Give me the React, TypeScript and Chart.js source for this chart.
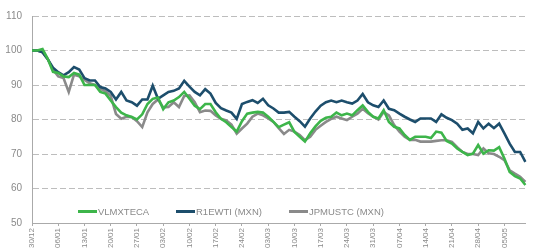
import React, { useEffect, useRef } from "react";
import { Chart, registerables } from "chart.js";

Chart.register(...registerables);

const dates = [
  "30/12", "31/12", "01/01", "02/01", "03/01",
  "06/01", "07/01", "08/01", "09/01", "10/01",
  "13/01", "14/01", "15/01", "16/01", "17/01",
  "20/01", "21/01", "22/01", "23/01", "24/01",
  "27/01", "28/01", "29/01", "30/01", "31/01",
  "03/02", "04/02", "05/02", "06/02", "07/02",
  "10/02", "11/02", "12/02", "13/02", "14/02",
  "17/02", "18/02", "19/02", "20/02", "21/02",
  "24/02", "25/02", "26/02", "27/02", "28/02",
  "03/03", "04/03", "05/03", "06/03", "07/03",
  "10/03", "11/03", "12/03", "13/03", "14/03",
  "17/03", "18/03", "19/03", "20/03", "21/03",
  "24/03", "25/03", "26/03", "27/03", "28/03",
  "31/03", "01/04", "02/04", "03/04", "04/04",
  "07/04", "08/04", "09/04", "10/04", "11/04",
  "14/04", "15/04", "16/04", "17/04", "18/04",
  "21/04", "22/04", "23/04", "24/04", "25/04",
  "28/04", "29/04", "30/04", "01/05", "02/05",
  "05/05", "06/05", "07/05", "08/05", "09/05",
];

const vlmxteca = [
  100, 100, 100.4, 97.6, 93.8,
  93.5, 92.5, 92.3, 93.5, 93,
  90, 90, 90, 88, 87.5,
  85.5, 83.6, 82, 81.2, 80.7,
  80, 81.5, 84.5, 86, 86.4,
  83, 85, 85.5, 86.5, 88,
  86, 84, 83, 84.5, 84.5,
  82.1, 80.2, 79.2, 77.8, 76.5,
  79.5, 81.7, 82, 82.2, 82,
  80.8, 79.3, 77.8, 78.5, 79.2,
  76.4, 75, 73.6, 76, 78,
  79.6, 80.5, 80.8, 82, 81.2,
  81.7, 81.2, 82.7, 84.1, 82.2,
  80.8, 80.3, 82.7, 79.3, 77.9,
  77.4, 75.5, 74.1, 75, 75,
  75, 74.6, 76.5, 76.2, 73.8,
  73, 71.6, 70.6, 69.7, 70.1,
  72.6, 70.1, 71.1, 71, 72,
  68.7, 64.8, 63.6, 62.9, 61,
];

const r1ewti = [
  100, 100, 99.5, 97.5, 95,
  93.7, 92.8, 93.7, 95.2, 94.5,
  92, 91.3, 91.3, 89.4, 89,
  88, 85.8, 88, 85.5, 85,
  84, 85.8, 85.8, 89.8, 86,
  87, 88, 88.3, 89, 91.2,
  89.5, 88, 87, 88.8, 87.5,
  84.8, 83.3, 82.6, 82, 80.2,
  84.5, 85.1, 85.6, 84.8, 86,
  84.1, 83.2, 82, 82, 82.2,
  80.8, 79.5, 77.9, 80.3, 82.3,
  84, 85, 85.5, 85, 85.5,
  85, 84.6, 85.5, 87.4, 85,
  84.1, 83.6, 85.5, 83.1, 82.7,
  81.7, 80.8, 80, 79.3, 80.3,
  80.3, 80.3, 79.3, 81.5, 80.5,
  79.8, 78.8, 77, 77.4, 76,
  79.3, 77.4, 78.8, 77.5, 78.8,
  76, 73, 70.6, 70.6, 67.7,
];

const jpmustc = [
  100, 100, 99.5, 97.5, 94.5,
  92.5, 92, 88, 93, 92.5,
  91.5, 90.5, 90, 88.9, 88.2,
  86.8, 81.6, 80.2, 80.8, 80.7,
  79.5, 77.8, 82.1, 84.5, 85.8,
  83.5, 83.6, 85, 83.6, 86.8,
  87, 85, 82.1, 82.6, 82.5,
  81.2, 80.2, 79.7, 78.5, 75.9,
  77.4, 78.8, 80.8, 81.7, 81.2,
  80.3, 79.3, 77.5, 75.8, 77,
  76.5, 75.5, 74, 75, 77,
  78.2, 79.3, 80.2, 80.8, 80.3,
  79.8, 80.8, 81.7, 83.1, 81.8,
  80.8, 80, 82.2, 81.2, 78.4,
  76.5, 75, 74.1, 74.1, 73.6,
  73.6, 73.6, 73.8, 74, 74,
  73.5, 72, 70.6, 70, 70,
  69.7, 71.6, 70.2, 70, 69.2,
  68.2, 65.3, 64.3, 63.4, 61.9,
];

const seriesNames = ["VLMXTECA", "R1EWTI (MXN)", "JPMUSTC (MXN)"];
const seriesColors = ["#3DB54A", "#1D4E6C", "#8A8A8A"];

const FONT = "'Liberation Sans', Arial, sans-serif";

export default function App() {
  const ref = useRef<HTMLCanvasElement | null>(null);

  useEffect(() => {
    if (!ref.current) return;
    const chart = new Chart(ref.current, {
      type: "line",
      data: {
        labels: dates,
        datasets: [vlmxteca, r1ewti, jpmustc].map((d, i) => ({
          label: seriesNames[i],
          data: d,
          borderColor: seriesColors[i],
          backgroundColor: seriesColors[i],
          borderWidth: 2.6,
          pointRadius: 0,
          tension: 0,
          fill: false,
        })),
      },
      options: {
        animation: false,
        responsive: false,
        devicePixelRatio: 1,
        layout: { padding: { top: 15, right: 2, left: 0, bottom: 0 } },
        plugins: { legend: { display: false }, tooltip: { enabled: false } },
        scales: {
          x: {
            type: "category",
            offset: false,
            grid: {
              display: true,
              drawOnChartArea: false,
              drawTicks: true,
              tickLength: 3,
              color: (ctx: any) => (ctx.index % 5 === 0 ? "#aaaaaa" : "rgba(0,0,0,0)"),
            },
            border: { display: true, color: "#aaaaaa", width: 1 },
            ticks: {
              autoSkip: false,
              maxRotation: 90,
              minRotation: 90,
              padding: 2,
              color: "#8a8a8a",
              font: { size: 8, family: FONT },
              callback: (_v: any, i: number) => (i % 5 === 0 ? dates[i] : ""),
            },
            afterFit: (s: any) => {
              s.height = 26;
            },
          },
          y: {
            min: 50,
            max: 110,
            ticks: {
              stepSize: 10,
              padding: 10,
              color: "#8a8a8a",
              font: { size: 10, family: FONT },
            },
            grid: { color: "#bdbdbd", drawTicks: false, lineWidth: 1 },
            border: { display: true, color: "#aaaaaa", width: 1, dash: [6, 3] },
            afterFit: (s: any) => {
              s.width = 32;
            },
          },
        },
      },
    });
    return () => chart.destroy();
  }, []);

  const legendItems = [
    { left: 78, name: seriesNames[0], color: seriesColors[0] },
    { left: 176, name: seriesNames[1], color: seriesColors[1] },
    { left: 289, name: seriesNames[2], color: seriesColors[2] },
  ];

  return (
    <div
      style={{
        position: "fixed",
        left: 0,
        top: 0,
        width: 537,
        height: 249,
        background: "#fff",
        overflow: "hidden",
      }}
    >
      <canvas ref={ref} width={537} height={249} style={{ width: 537, height: 249, display: "block" }} />
      {legendItems.map((it) => (
        <div
          key={it.name}
          style={{
            position: "absolute",
            left: it.left,
            top: 204,
            height: 14,
            display: "flex",
            alignItems: "center",
            fontFamily: FONT,
            fontSize: 9.5,
            color: "#8a8a8a",
            whiteSpace: "nowrap",
          }}
        >
          <span style={{ display: "inline-block", width: 19, height: 3, background: it.color, marginRight: 1 }} />
          <span>{it.name}</span>
        </div>
      ))}
    </div>
  );
}
